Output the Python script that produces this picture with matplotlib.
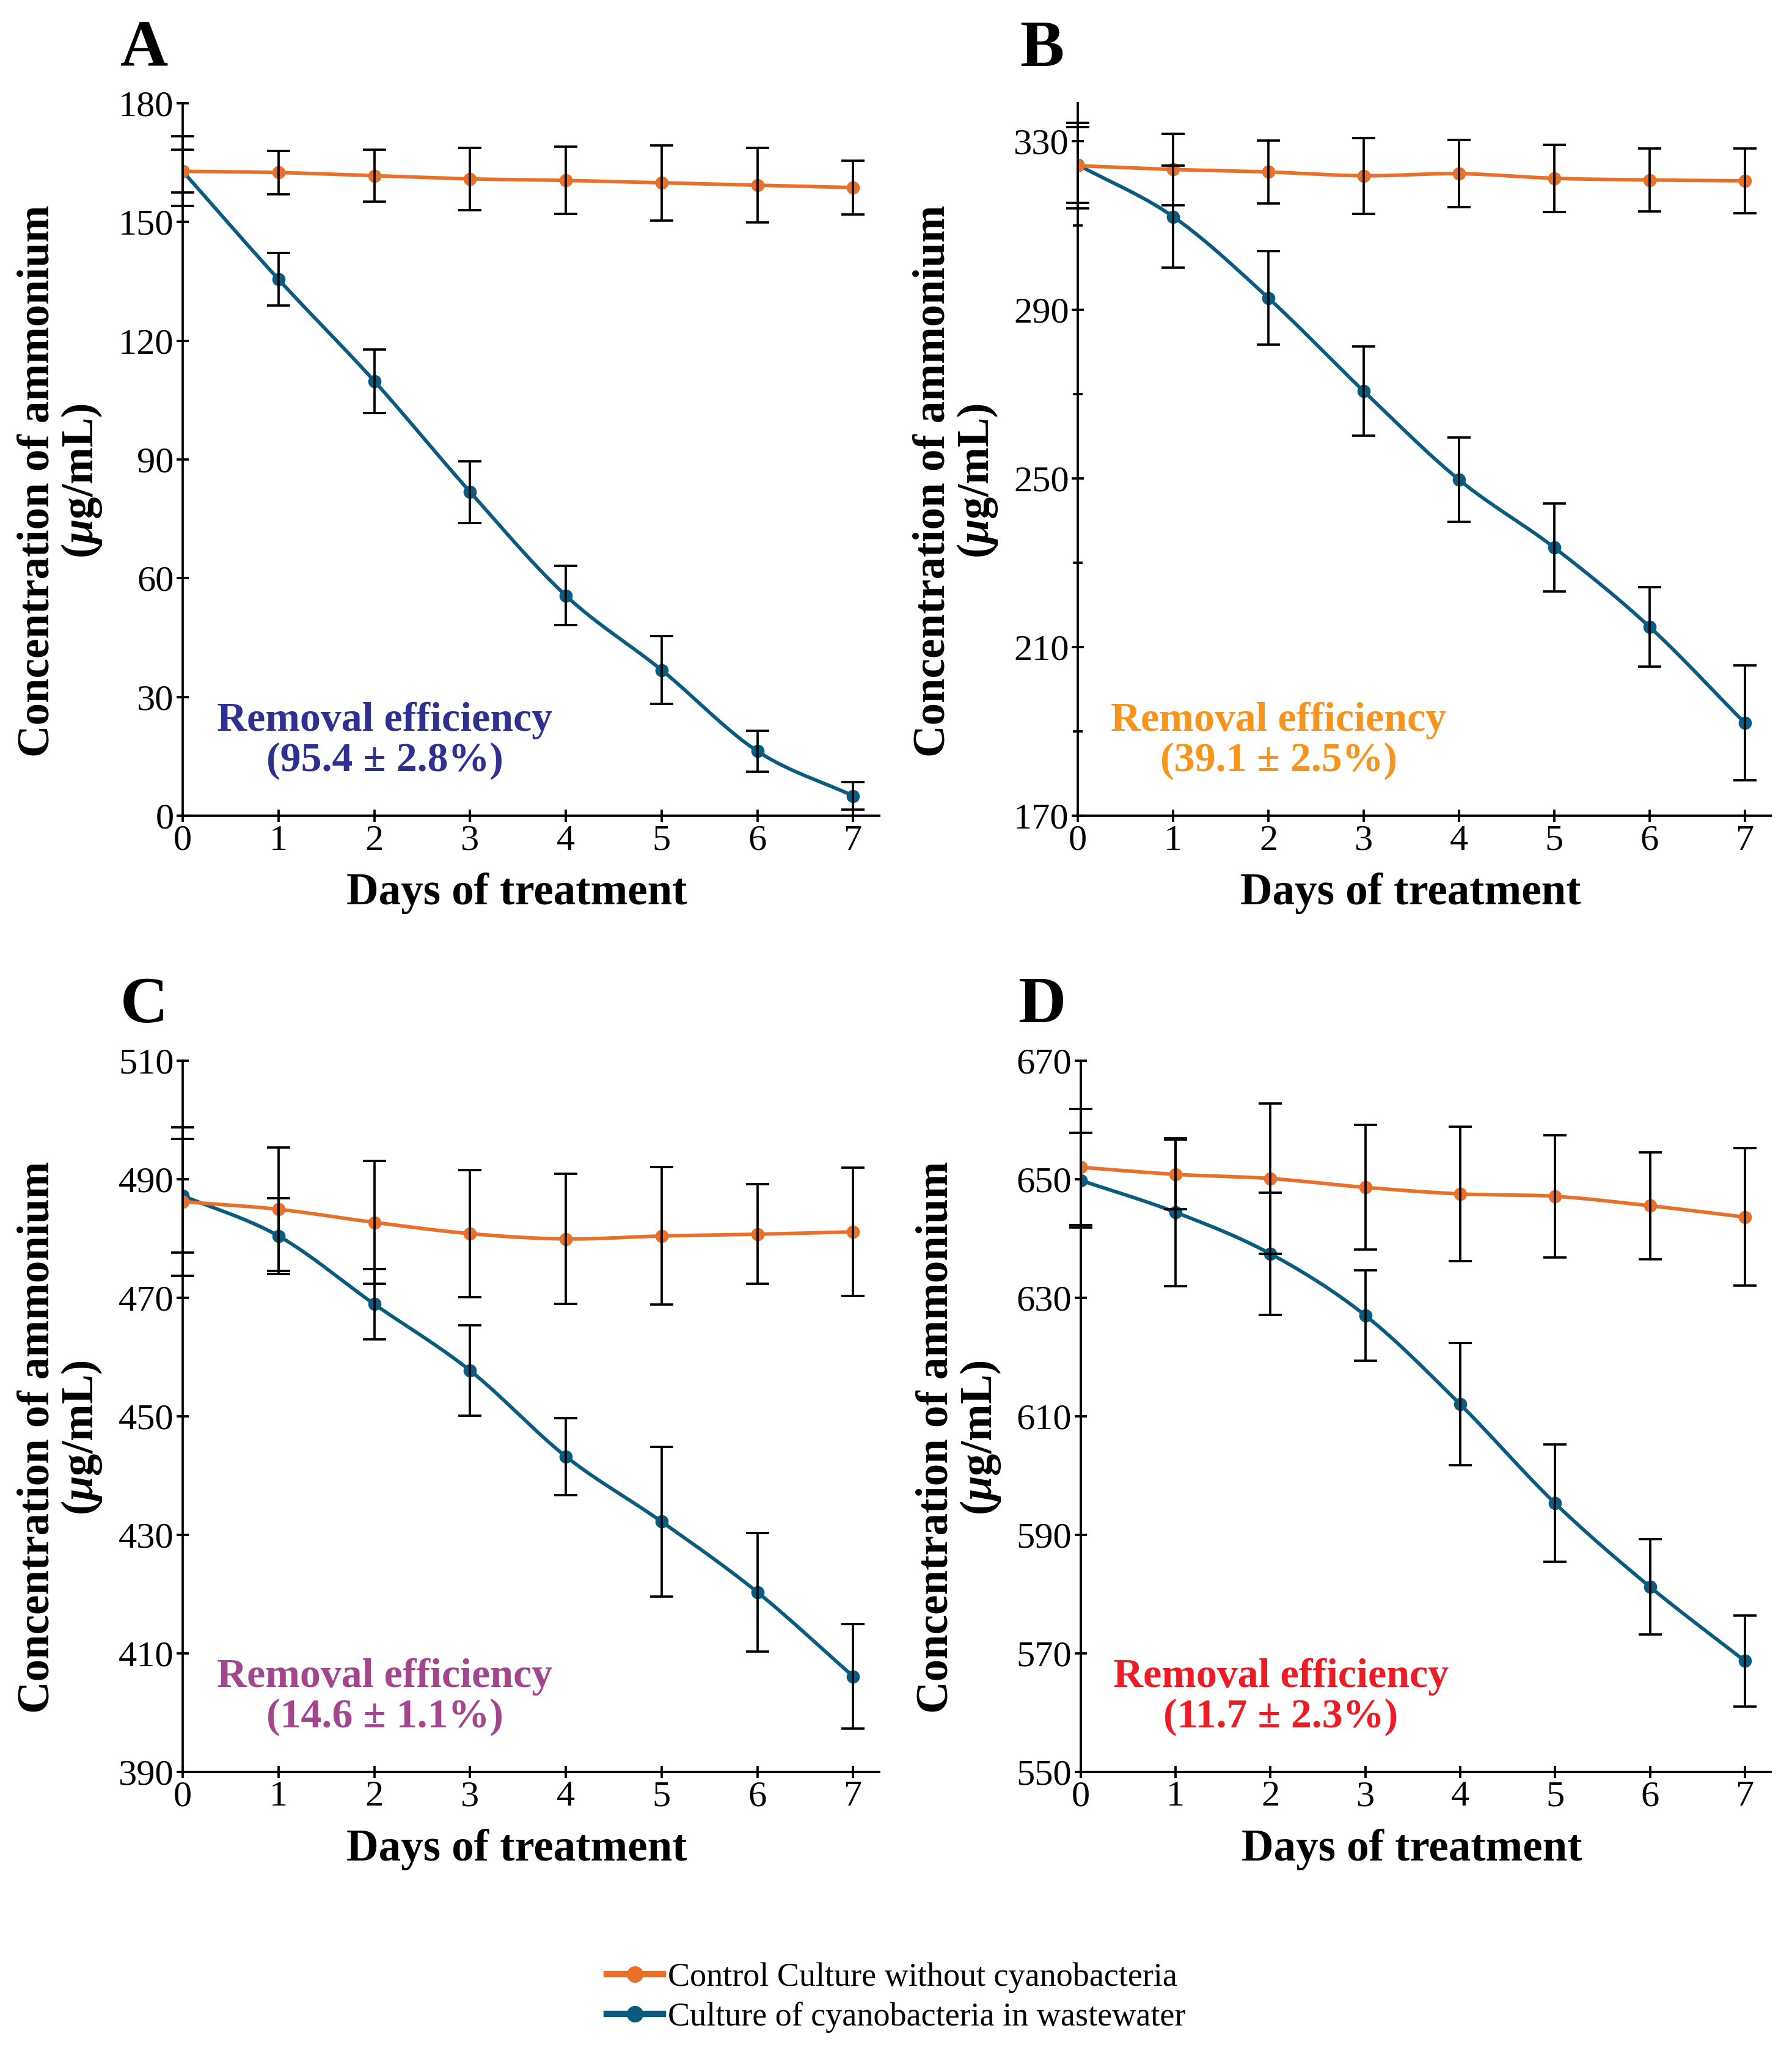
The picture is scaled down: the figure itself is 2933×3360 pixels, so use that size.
import matplotlib
matplotlib.use('Agg')
import matplotlib.pyplot as plt
import numpy as np

plt.rcParams['font.family'] = ['Liberation Serif', 'DejaVu Serif']
plt.rcParams['mathtext.fontset'] = 'custom'
plt.rcParams['mathtext.it'] = 'Liberation Serif:italic:bold'
plt.rcParams['mathtext.rm'] = 'Liberation Serif:bold'

days = [0, 1, 2, 3, 4, 5, 6, 7]

# panel A
ctrl_a = [162.8, 162.5, 161.7, 160.9, 160.5, 159.9, 159.3, 158.7]
ctrl_a_err = [8.8, 5.5, 6.6, 7.9, 8.5, 9.5, 9.4, 6.8]
cyano_a = [162.8, 135.5, 109.8, 81.8, 55.6, 36.8, 16.3, 5.0]
cyano_a_err = [5.4, 6.6, 8.0, 7.8, 7.5, 8.6, 5.2, 3.5]

# panel B
ctrl_b = [324.2, 323.3, 322.7, 321.8, 322.3, 321.2, 320.8, 320.6]
ctrl_b_err = [10.2, 8.5, 7.5, 9.0, 8.0, 8.0, 7.5, 7.7]
cyano_b = [324.4, 312.1, 292.8, 270.7, 249.7, 233.6, 214.8, 192.0]
cyano_b_err = [9.0, 12.1, 11.1, 10.6, 10.0, 10.4, 9.4, 13.6]

# panel C
ctrl_c = [486.2, 484.9, 482.7, 480.8, 479.9, 480.4, 480.7, 481.1]
ctrl_c_err = [12.5, 10.4, 10.4, 10.7, 11.0, 11.6, 8.4, 10.8]
cyano_c = [487.2, 480.4, 468.9, 457.7, 443.2, 432.2, 420.3, 406.1]
cyano_c_err = [9.6, 6.4, 5.9, 7.6, 6.5, 12.6, 10.0, 8.8]

# panel D
ctrl_d = [652.0, 650.8, 650.1, 648.6, 647.5, 647.1, 645.5, 643.6]
ctrl_d_err = [9.8, 5.9, 12.7, 10.5, 11.3, 10.3, 9.0, 11.6]
cyano_d = [649.8, 644.4, 637.4, 627.0, 612.0, 595.3, 581.2, 568.7]
cyano_d_err = [8.0, 12.5, 10.3, 7.6, 10.3, 9.9, 8.0, 7.7]

letters = ['A', 'B', 'C', 'D']
efficiency = ['(95.4 ± 2.8%)', '(39.1 ± 2.5%)', '(14.6 ± 1.1%)', '(11.7 ± 2.3%)']
eff_colors = ['#2E3192', '#F7941D', '#A3468E', '#ED1C24']
ylims = [(0, 180), (170, 339), (390, 510), (550, 670)]
yticks = [np.arange(0, 181, 30), np.arange(170, 331, 40),
          np.arange(390, 511, 20), np.arange(550, 671, 20)]

orange = '#E8702A'
blue = '#0B5A80'


def smooth(x, y, n=24):
    # Catmull-Rom curve through the points, only for drawing the line
    x = np.asarray(x, float)
    y = np.asarray(y, float)
    px = np.concatenate([[2 * x[0] - x[1]], x, [2 * x[-1] - x[-2]]])
    py = np.concatenate([[2 * y[0] - y[1]], y, [2 * y[-1] - y[-2]]])
    t = np.linspace(0, 1, n, endpoint=False)
    xs, ys = [], []
    for i in range(1, len(px) - 2):
        for p, out in ((px, xs), (py, ys)):
            p0, p1, p2, p3 = p[i - 1], p[i], p[i + 1], p[i + 2]
            out.extend(0.5 * (2 * p1 + (-p0 + p2) * t
                              + (2 * p0 - 5 * p1 + 4 * p2 - p3) * t ** 2
                              + (-p0 + 3 * p1 - 3 * p2 + p3) * t ** 3))
    xs.append(x[-1])
    ys.append(y[-1])
    return xs, ys


fig = plt.figure(figsize=(2933 / 300, 3360 / 300), dpi=300)
positions = [[0.102, 0.6027, 0.3885, 0.347],
             [0.6015, 0.6027, 0.3865, 0.347],
             [0.102, 0.137, 0.3885, 0.3464],
             [0.603, 0.137, 0.385, 0.3464]]
data = [(ctrl_a, ctrl_a_err, cyano_a, cyano_a_err),
        (ctrl_b, ctrl_b_err, cyano_b, cyano_b_err),
        (ctrl_c, ctrl_c_err, cyano_c, cyano_c_err),
        (ctrl_d, ctrl_d_err, cyano_d, cyano_d_err)]
letter_pos = [(0.067, 0.968), (0.569, 0.968), (0.067, 0.502), (0.568, 0.502)]

for i in range(4):
    ax = fig.add_axes(positions[i])
    ctrl, ctrl_err, cyano, cyano_err = data[i]

    sx, sy = smooth(days, cyano)
    l2, = ax.plot(sx, sy, color=blue, lw=1.4, zorder=2)
    ax.plot(days, cyano, 'o', color=blue, ms=4.2, zorder=2)
    sx, sy = smooth(days, ctrl)
    l1, = ax.plot(sx, sy, color=orange, lw=1.4, zorder=3)
    ax.plot(days, ctrl, 'o', color=orange, ms=4.2, zorder=3)

    ax.errorbar(days, cyano, yerr=cyano_err, fmt='none', ecolor='black',
                elinewidth=0.9, capsize=4.5, capthick=0.9, zorder=4, clip_on=False)
    ax.errorbar(days, ctrl, yerr=ctrl_err, fmt='none', ecolor='black',
                elinewidth=0.9, capsize=4.5, capthick=0.9, zorder=4, clip_on=False)

    ax.set_xlim(0, 7.27)
    ax.set_ylim(*ylims[i])
    ax.set_xticks(days)
    ax.set_yticks(yticks[i])
    if i == 1:
        ax.set_yticks([190, 230, 270, 310], minor=True)
    for side in ['top', 'right']:
        ax.spines[side].set_visible(False)
    for side in ['left', 'bottom']:
        ax.spines[side].set_linewidth(0.9)
    ax.tick_params(axis='both', which='major', direction='inout', length=5,
                   width=0.9, labelsize=14.5, pad=1)
    ax.tick_params(axis='y', which='minor', direction='inout', length=4, width=0.9)
    ax.patch.set_alpha(0)

    ax.set_xlabel('Days of treatment', fontsize=17.5, fontweight='bold')
    ax.xaxis.set_label_coords(0.48, -0.08)
    ax.set_ylabel('Concentration of ammonium\n($\\mu$g/mL)', fontsize=17.5,
                  fontweight='bold', linespacing=1.05)
    ax.yaxis.set_label_coords(-0.113, 0.47)

    ax.text(0.29, 0.105, 'Removal efficiency\n' + efficiency[i],
            transform=ax.transAxes, ha='center', va='center',
            fontsize=16.3, fontweight='bold', color=eff_colors[i],
            linespacing=1.1)

    fig.text(letter_pos[i][0], letter_pos[i][1], letters[i], fontsize=26,
             fontweight='bold', va='baseline', ha='left')

fig.legend([l1, l2], ['Control Culture without cyanobacteria',
                      'Culture of cyanobacteria in wastewater'],
           loc='center', bbox_to_anchor=(0.5, 0.027), frameon=False,
           fontsize=13, handlelength=1.7, handletextpad=0.15,
           labelspacing=0.25)
for h, c in zip(fig.legends[0].legend_handles, [orange, blue]):
    h.set_marker('o')
    h.set_markersize(5.5)
    h.set_markerfacecolor(c)
    h.set_markeredgecolor(c)
    h.set_linewidth(2.5)

fig.savefig('out.png', dpi=300)
